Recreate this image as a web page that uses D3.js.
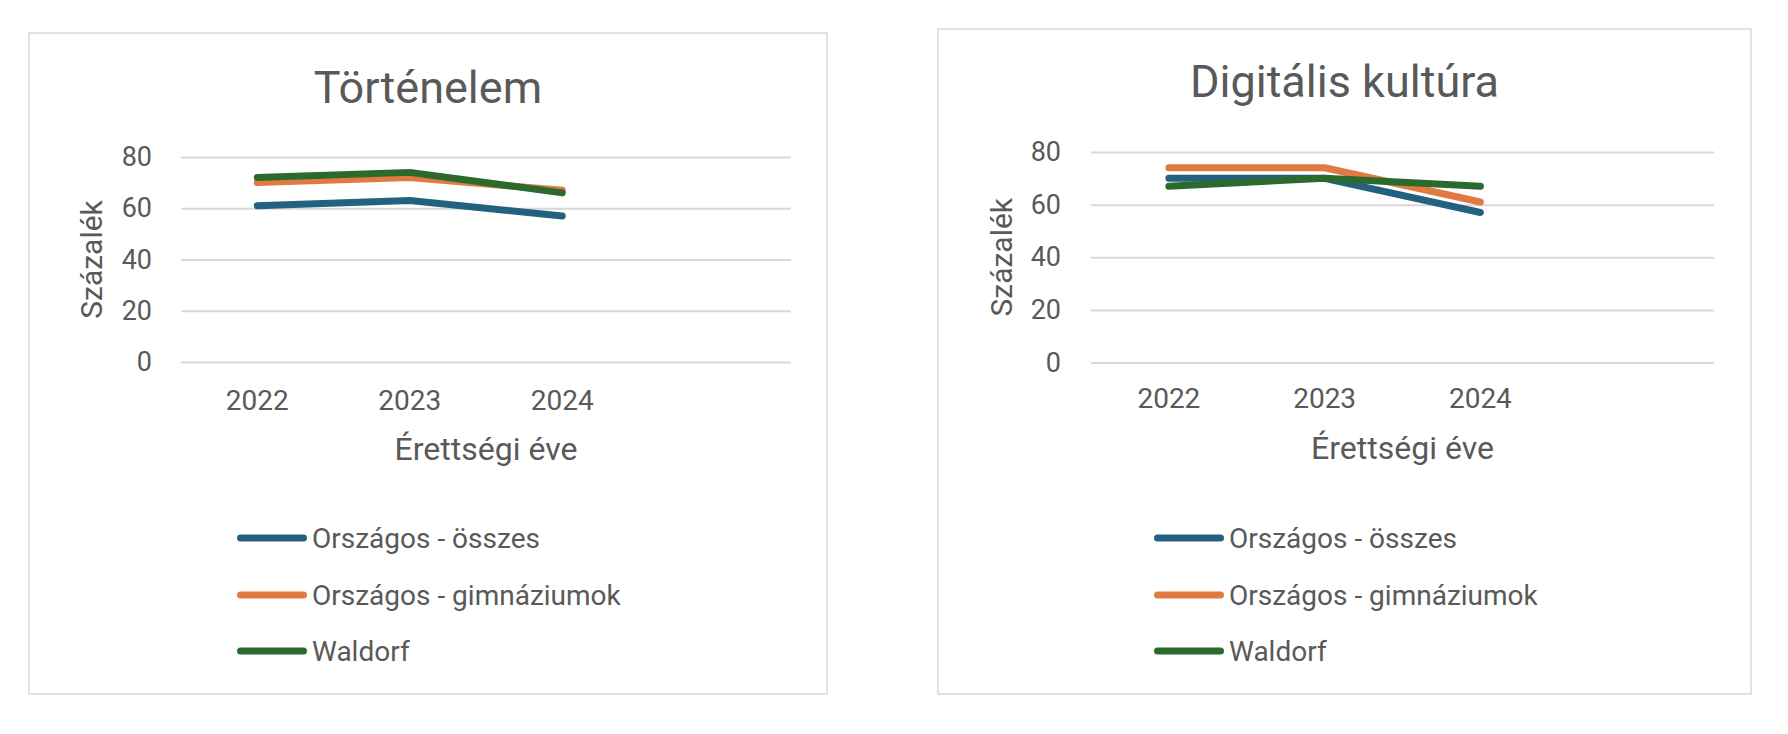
<!DOCTYPE html>
<html>
<head>
<meta charset="utf-8">
<script src="https://cdn.jsdelivr.net/npm/d3@7"></script>
<style>
  body { margin: 0; background: #fff; }
  svg text { font-family: Roboto, "Noto Sans", sans-serif; fill: #595959; }
</style>
</head>
<body>
<svg id="chart" width="1788" height="734"></svg>
<script>
// categories (4th slot is left empty, like in the original)
const years = ["2022", "2023", "2024", ""];
const yTicks = [0, 20, 40, 60, 80];

const seriesNames = ["Országos - összes", "Országos - gimnáziumok", "Waldorf"];
const seriesColors = ["#24607f", "#e07a40", "#2b6a2d"];

// Történelem
const tortOsszes = [61, 63, 57];
const tortGimn = [70, 72, 67];
const tortWaldorf = [72, 74, 66];

// Digitális kultúra
const digiOsszes = [70, 70, 57];
const digiGimn = [74, 74, 61];
const digiWaldorf = [67, 70, 67];

const svg = d3.select("#chart");

// draws one chart panel
function drawPanel(p) {
    const g = svg.append("g");

    // frame
    g.append("rect")
        .attr("x", p.box.x).attr("y", p.box.y)
        .attr("width", p.box.w).attr("height", p.box.h)
        .attr("fill", "#fff").attr("stroke", "#d9d9d9").attr("stroke-width", 1.5);

    const x = d3.scaleBand().domain(years).range([p.left, p.right]).padding(0);
    const y = d3.scaleLinear().domain([0, 80]).range([p.bottom, p.top]);
    const cx = d => x(d) + x.bandwidth() / 2;

    // gridlines
    const grid = g.append("g")
        .attr("transform", `translate(${p.left},0)`)
        .call(d3.axisLeft(y).tickValues(yTicks).tickSize(-(p.right - p.left)).tickFormat(""));
    grid.select(".domain").remove();
    grid.selectAll("line").attr("stroke", "#d9d9d9").attr("stroke-width", 2);

    // y axis labels
    const yAxis = g.append("g")
        .attr("transform", `translate(${p.left},0)`)
        .call(d3.axisLeft(y).tickValues(yTicks).tickSize(0).tickPadding(p.left - p.yLabelRight));
    yAxis.select(".domain").remove();
    yAxis.selectAll("text").style("font-size", "27px").attr("fill", "#595959");

    // x axis labels
    const xAxis = g.append("g")
        .attr("transform", `translate(0,${p.bottom})`)
        .call(d3.axisBottom(x).tickSize(0));
    xAxis.select(".domain").remove();
    xAxis.selectAll("text").attr("dy", null).attr("y", p.xLabelBase - p.bottom)
        .style("font-size", "28px").attr("fill", "#595959");

    // lines
    const line = d3.line().x((d, i) => cx(years[i])).y(d => y(d));
    p.series.forEach((vals, i) => {
        g.append("path")
            .attr("d", line(vals))
            .attr("fill", "none")
            .attr("stroke", seriesColors[i])
            .attr("stroke-width", 7)
            .attr("stroke-linecap", "round")
            .attr("stroke-linejoin", "round");
    });

    // title
    g.append("text")
        .attr("x", p.box.x + p.box.w / 2).attr("y", p.titleBase)
        .attr("text-anchor", "middle")
        .style("font-size", "45px")
        .text(p.title);

    // axis titles
    g.append("text")
        .attr("x", (p.left + p.right) / 2).attr("y", p.xTitleBase)
        .attr("text-anchor", "middle")
        .style("font-size", "32px")
        .text("Érettségi éve");

    g.append("text")
        .attr("transform", `translate(${p.yTitleX},${(p.top + p.bottom) / 2}) rotate(-90)`)
        .attr("text-anchor", "middle")
        .style("font-size", "30px")
        .text("Százalék");

    // legend
    seriesNames.forEach((name, i) => {
        const ly = p.legendY[i];
        g.append("line")
            .attr("x1", p.legendX + 3.5).attr("x2", p.legendX + 66.5)
            .attr("y1", ly).attr("y2", ly)
            .attr("stroke", seriesColors[i])
            .attr("stroke-width", 7)
            .attr("stroke-linecap", "round");
        g.append("text")
            .attr("x", p.legendX + 75).attr("y", ly)
            .attr("dy", "0.35em")
            .style("font-size", "28px")
            .text(name);
    });
}

drawPanel({
    box: { x: 29, y: 33, w: 798, h: 661 },
    title: "Történelem",
    titleBase: 103,
    left: 181, right: 791, top: 157, bottom: 362,
    yLabelRight: 152,
    xLabelBase: 410,
    xTitleBase: 460,
    yTitleX: 102,
    legendX: 237,
    legendY: [538, 595, 651],
    series: [tortOsszes, tortGimn, tortWaldorf]
});

drawPanel({
    box: { x: 938, y: 29, w: 813, h: 665 },
    title: "Digitális kultúra",
    titleBase: 97,
    left: 1091, right: 1714, top: 152, bottom: 362.5,
    yLabelRight: 1061,
    xLabelBase: 408,
    xTitleBase: 459,
    yTitleX: 1012,
    legendX: 1154,
    legendY: [538, 595, 651],
    series: [digiOsszes, digiGimn, digiWaldorf]
});
</script>
</body>
</html>
